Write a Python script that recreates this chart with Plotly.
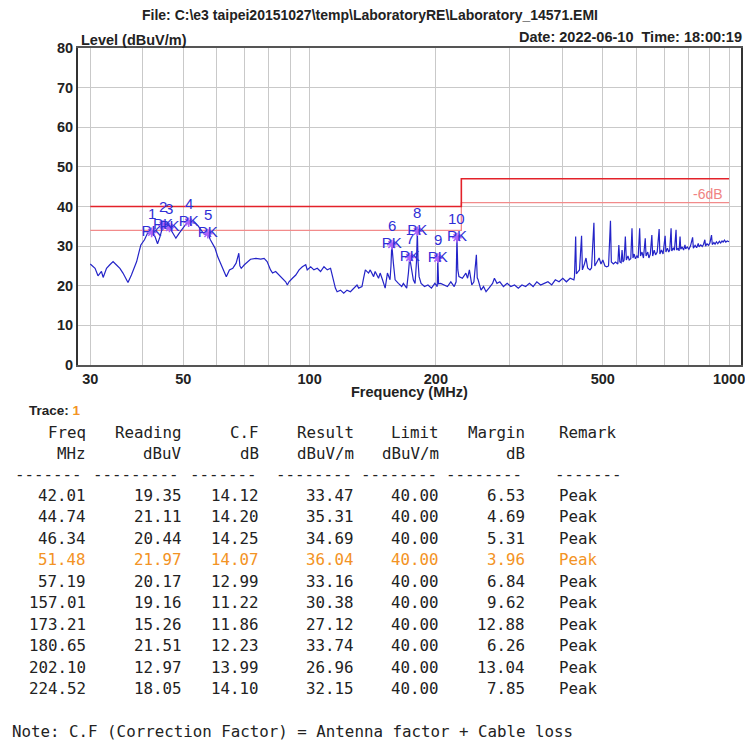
import numpy as np
import plotly.graph_objects as go

# ---------------- data ----------------
FREQ = [
    30.0, 30.8, 31.3, 31.9, 32.2, 32.8, 33.4, 34.0, 34.6, 35.3, 35.9, 36.4, 36.9, 37.6, 38.2, 38.7,
    39.2, 39.6, 40.4, 41.1, 42.01, 42.4, 42.8, 43.4, 44.0, 44.74, 45.4, 46.34, 47.1, 48.0, 48.9,
    50.0, 51.0, 51.48, 52.3, 53.4, 54.4, 55.4, 56.3, 57.19, 58.0, 58.8, 59.5, 60.4, 61.8, 62.5,
    63.3, 64.4, 65.6, 66.8, 67.8, 68.2, 68.7, 69.9, 71.2,
    72.3, 74.5, 76.5, 77.9, 79.2, 80.7, 81.6, 83.0, 84.6, 86.1, 87.7, 88.5, 89.3, 91.0, 92.7,
    94.4, 96.1, 97.9, 98.7, 100.6, 102.4, 104.3, 106.2, 108.2, 110.2, 112.2, 113.2, 114.2,
    115.2, 116.3, 118.5, 120.6, 122.8, 125.1, 127.4, 129.7, 130.9, 133.3, 134.5, 135.8, 138.2,
    139.5, 142.1, 143.3, 146.0, 147.3, 149.2, 151.4, 153.3, 155.5, 156.3, 157.01, 158.4, 159.9,
    162.8,
    165.8, 167.3, 170.4, 172.0, 173.21, 176.7, 178.4, 179.8, 180.65, 181.4, 182.4, 184.4, 187.9,
    191.5, 195.2, 198.9, 201.5, 202.10, 203.0, 205.3, 209.2, 213.1, 217.1, 221.2, 223.5, 224.52,
    225.6, 227.0, 231.3, 235.8, 238.0, 240.4, 243.6, 246.4, 249.8, 251.0, 252.2, 256.2, 259.8,
    263.4, 267.6, 273.0, 275.8, 279.7, 284.1, 289.8, 295.8, 301.8, 308.0, 314.4, 320.8, 327.4,
    334.3, 341.1, 348.1, 355.4, 362.6, 370.0, 377.7, 385.3, 393.2, 401.4, 409.5, 417.9, 426.6,
    428.0, 430.8, 432.5, 436.0, 440.0, 445.0, 447.0, 452.0, 456.0, 460.0, 466.0, 470.0, 476.2,
    478.5, 484.0, 490.0, 495.0, 500.0, 506.0, 511.0, 516.0, 521.5, 524.0, 530.0, 536.0, 543.0,
    546.0, 549.0, 553.0, 555.8, 558.5, 562.0, 565.9, 569.0, 574.0, 578.0, 583.0, 586.9, 590.0,
    594.0, 598.0, 603.0, 607.0, 612.1, 615.0, 620.0, 625.0, 631.2, 634.0, 640.0, 644.0, 649.0,
    654.5, 657.5, 663.0, 668.0, 674.0, 681.2, 684.0, 690.0, 696.0, 704.0, 707.0, 713.0, 718.0,
    722.0, 727.4, 730.0, 736.0, 741.0, 747.5, 750.0, 756.0, 760.0, 764.1, 767.0, 773.0, 779.0,
    785.0, 788.0, 795.0, 802.0, 809.0, 818.6, 822.0, 830.0, 837.0, 844.4, 848.0, 856.0, 863.0,
    869.0, 875.5, 879.0, 886.0, 893.0, 900.0, 908.1, 912.0, 920.0, 926.0, 933.2, 940.0, 948.0,
    955.0, 962.0, 968.0, 975.0, 982.0, 990.0, 1000.0,
]
LEVEL = [
    25.5, 24.4, 22.5, 23.6, 22.1, 24.4, 25.3, 26.1, 25.3, 24.4, 23.2, 22.0, 20.8, 22.7, 24.5, 26.1,
    28.5, 30.3, 31.6, 33.3, 33.47, 33.0, 32.4, 30.6, 32.4, 35.31, 34.5, 34.69, 33.3, 32.0, 33.3,
    34.8, 35.9, 36.04, 36.0, 35.8, 34.9, 33.7, 33.0, 33.16, 31.6, 30.3, 29.5, 27.3, 24.8, 23.5,
    22.3, 24.0, 24.4, 25.7, 28.2, 25.0, 24.4, 25.3, 26.1,
    26.7, 26.9, 26.7, 26.9, 26.1, 24.0, 23.2, 23.6, 22.7, 21.9, 21.0, 20.2, 21.0, 21.9, 22.7,
    24.0, 24.8, 25.3, 24.0, 24.8, 24.0, 24.4, 23.6, 24.8, 24.0, 24.4, 22.7, 21.5,
    19.4, 18.5, 18.9, 18.1, 18.9, 18.5, 19.4, 20.2, 19.4, 19.8, 21.9, 24.0, 23.2,
    24.0, 22.3, 23.6, 21.9, 23.2, 21.5, 19.4, 23.2, 21.5, 25.0, 30.38, 25.7, 21.5,
    20.6,
    19.8, 20.6, 19.4, 23.2, 27.12, 21.5, 20.6, 26.0, 33.74, 26.0, 22.3, 20.6, 19.8,
    20.2, 19.4, 20.6, 19.8, 26.96, 20.5, 20.6, 20.2, 19.8, 21.0, 19.8, 21.0, 32.15,
    24.0, 22.3, 21.9, 23.2, 21.9, 24.0, 20.2, 21.0, 27.8, 22.0, 21.5, 18.9, 19.8,
    18.5, 19.4, 20.6, 21.9, 20.6, 21.0, 19.8, 20.6, 19.8, 20.2, 19.4, 20.2, 19.8,
    20.6, 19.8, 21.0, 20.2, 20.6, 21.0, 20.2, 21.5, 21.0, 21.9, 21.0, 21.9, 21.5,
    22.3, 32.4, 23.0, 23.5, 24.0, 32.6, 24.0, 25.5, 27.0, 24.5, 24.0, 24.5, 35.9,
    25.0, 26.0, 27.0, 25.5, 26.5, 25.0, 24.8, 25.0, 36.4, 26.0, 25.5, 26.0, 25.5,
    30.3, 26.0, 25.8, 29.0, 26.0, 26.5, 32.4, 26.5, 27.5, 26.5, 26.8, 34.5, 27.0,
    28.0, 26.8, 27.5, 27.0, 34.5, 27.5, 28.5, 27.0, 32.0, 27.5, 28.5, 27.0, 28.0,
    32.8, 27.5, 29.0, 27.8, 28.5, 34.3, 28.0, 29.0, 28.0, 32.6, 28.5, 29.5, 28.5,
    29.0, 34.5, 28.8, 29.5, 29.0, 34.1, 29.0, 29.5, 28.8, 32.4, 29.2, 29.8, 29.0,
    30.3, 29.3, 29.8, 29.2, 30.0, 32.2, 29.5, 30.2, 29.6, 30.7, 29.8, 30.3, 29.9,
    30.4, 31.6, 30.0, 30.6, 30.2, 30.8, 32.8, 30.4, 30.9, 30.5, 31.1, 30.6, 31.2,
    30.8, 31.3, 31.0, 31.5, 31.0, 31.3, 31.1,
]

LIMIT_FREQ = [30, 230, 230, 1000]
LIMIT_LEVEL = [40, 40, 47, 47]
MARGIN_LEVEL = [34, 34, 41, 41]

PEAK_NO = [1, 2, 3, 4, 5, 6, 7, 8, 9, 10]
PEAK_FREQ = [42.01, 44.74, 46.34, 51.48, 57.19, 157.01, 173.21, 180.65, 202.10, 224.52]
READING = [19.35, 21.11, 20.44, 21.97, 20.17, 19.16, 15.26, 21.51, 12.97, 18.05]
CF = [14.12, 14.20, 14.25, 14.07, 12.99, 11.22, 11.86, 12.23, 13.99, 14.10]
RESULT = [33.47, 35.31, 34.69, 36.04, 33.16, 30.38, 27.12, 33.74, 26.96, 32.15]
LIMIT = [40.00, 40.00, 40.00, 40.00, 40.00, 40.00, 40.00, 40.00, 40.00, 40.00]
MARGIN = [6.53, 4.69, 5.31, 3.96, 6.84, 9.62, 12.88, 6.26, 13.04, 7.85]
REMARK = ["Peak"] * 10
HIGHLIGHT_ROW = 3

HEAD1 = ["Freq", "Reading", "C.F", "Result", "Limit", "Margin", "Remark"]
HEAD2 = ["MHz", "dBuV", "dB", "dBuV/m", "dBuV/m", "dB", ""]

Y_TICKS = [0, 10, 20, 30, 40, 50, 60, 70, 80]
X_GRID = [30, 40, 50, 60, 70, 80, 90, 100, 200, 300, 400, 500, 600, 700, 800, 900, 1000]
X_LABELED = [30, 50, 100, 200, 500, 1000]

TITLE = "File: C:\\e3 taipei20151027\\temp\\LaboratoryRE\\Laboratory_14571.EMI"
DATE_TEXT = "Date: 2022-06-10&nbsp; Time: 18:00:19"
NOTE = "Note: C.F (Correction Factor) = Antenna factor + Cable loss"

# ---------------- layout geometry (reference pixels) ----------------
PAGE_OFF = 8                     # the page body margin shifts the figure by 8 px
W, H = 753 - PAGE_OFF, 742 - PAGE_OFF
L, R, T, B = 78, 745, 48, 365    # plot area in reference-picture pixels
PW, PH = R - L, B - T
PX_PER_DEC = 422.0
X_LO = 3 - (733 - L) / PX_PER_DEC
X_HI = X_LO + PW / PX_PER_DEC


def px(x):
    return (x - L) / PW


def py(y):
    return (B - y) / PH


SANS = "Liberation Sans, Arial, sans-serif"
MONO = "DejaVu Sans Mono, Liberation Mono, monospace"
BLUE = "#2424c8"
LBL_BLUE = "#2f2fd6"
ORANGE = "#f39324"
TXT = "#222222"

fig = go.Figure()
fig.add_trace(go.Scatter(x=LIMIT_FREQ, y=MARGIN_LEVEL, mode="lines",
                         line=dict(color="#f28b8b", width=1.3), hoverinfo="skip"))
fig.add_trace(go.Scatter(x=LIMIT_FREQ, y=LIMIT_LEVEL, mode="lines",
                         line=dict(color="#e3222a", width=1.6), hoverinfo="skip"))
fig.add_trace(go.Scatter(x=FREQ, y=LEVEL, mode="lines",
                         line=dict(color=BLUE, width=1.2), hoverinfo="skip"))
fig.add_trace(go.Scatter(x=PEAK_FREQ, y=RESULT, mode="markers+text",
                         text=["PK"] * len(PEAK_FREQ), textposition="middle center",
                         textfont=dict(family=SANS, size=15, color=LBL_BLUE),
                         marker=dict(symbol="asterisk-open", size=8,
                                     line=dict(color="#10108c", width=1.6)),
                         hoverinfo="skip"))

ann = []
for n, f, r in zip(PEAK_NO, PEAK_FREQ, RESULT):
    ann.append(dict(x=np.log10(f), y=r, xref="x", yref="y", text=str(n), showarrow=False,
                    yshift=19, font=dict(family=SANS, size=15, color=LBL_BLUE)))

ann.append(dict(x=px(729), y=py(194), xref="paper", yref="paper", text="-6dB", showarrow=False,
                xanchor="right", yanchor="middle",
                font=dict(family=SANS, size=14, color="#f08383")))

hdr_font = dict(family=SANS, size=14.5, color=TXT, weight="bold")
ann.append(dict(x=px(372), y=py(15), xref="paper", yref="paper", text=TITLE, showarrow=False,
                xanchor="center", yanchor="middle",
                font=dict(family=SANS, size=14, color=TXT, weight="bold")))
ann.append(dict(x=px(79), y=py(40), xref="paper", yref="paper", text="Level (dBuV/m)", showarrow=False,
                xanchor="left", yanchor="middle", font=hdr_font))
ann.append(dict(x=px(748), y=py(37), xref="paper", yref="paper", text=DATE_TEXT, showarrow=False,
                xanchor="right", yanchor="middle", font=hdr_font))
ann.append(dict(x=px(411), y=py(392), xref="paper", yref="paper", text="Frequency (MHz)", showarrow=False,
                xanchor="center", yanchor="middle", font=hdr_font))
ann.append(dict(x=px(27), y=py(410), xref="paper", yref="paper",
                text="Trace: <span style='color:%s'>1</span>" % ORANGE, showarrow=False,
                xanchor="left", yanchor="middle", font=dict(family=SANS, size=13.5, color=TXT, weight="bold")))

# table
COL_RIGHT = [88, 185, 262, 358, 443, 530]
REMARK_LEFT = 560


def cell(x, y, text, anchor="right", color=TXT):
    return dict(x=px(x), y=py(y), xref="paper", yref="paper", text=text, showarrow=False,
                xanchor=anchor, yanchor="middle", font=dict(family=MONO, size=15.8, color=color))


for i, h in enumerate(HEAD1):
    if i < 6:
        ann.append(cell(COL_RIGHT[i], 432, h))
    else:
        ann.append(cell(REMARK_LEFT, 432, h, "left"))
for i, h in enumerate(HEAD2):
    if h:
        ann.append(cell(COL_RIGHT[i], 453, h))

DASH_RIGHT = [84, 182, 260, 356, 441, 527]
DASH_N = [7, 9, 7, 8, 8, 8]
for xr, n in zip(DASH_RIGHT, DASH_N):
    ann.append(cell(xr, 474, "-" * n))
ann.append(cell(REMARK_LEFT - 4, 474, "-" * 7, "left"))

ROW0, STEP = 495, 21.55
for i in range(len(PEAK_FREQ)):
    y = ROW0 + i * STEP
    col = ORANGE if i == HIGHLIGHT_ROW else TXT
    vals = [PEAK_FREQ[i], READING[i], CF[i], RESULT[i], LIMIT[i], MARGIN[i]]
    for j, v in enumerate(vals):
        ann.append(cell(COL_RIGHT[j], y, f"{v:.2f}", color=col))
    ann.append(cell(REMARK_LEFT, y, REMARK[i], "left", color=col))

ann.append(cell(10, 731, NOTE, "left"))

tick_font = dict(family=SANS, size=14.5, color=TXT, weight="bold")
fig.update_layout(
    width=W, height=H,
    margin=dict(l=L - PAGE_OFF, r=753 - R, t=T - PAGE_OFF, b=742 - B, pad=0),
    paper_bgcolor="white", plot_bgcolor="white",
    showlegend=False,
    annotations=ann,
    xaxis=dict(type="log", range=[X_LO, X_HI], tickmode="array", tickvals=X_GRID,
               ticktext=[str(v) if v in X_LABELED else "" for v in X_GRID],
               showgrid=True, gridcolor="#c9c9c9", gridwidth=1, zeroline=False,
               showline=True, mirror=True, linecolor="#555555", linewidth=2,
               ticks="", tickfont=tick_font, fixedrange=True),
    yaxis=dict(range=[0, 80], tickmode="array", tickvals=Y_TICKS,
               showgrid=True, gridcolor="#c9c9c9", gridwidth=1, zeroline=False,
               showline=True, mirror=True, linecolor="#333333", linewidth=2,
               ticks="", tickfont=tick_font, fixedrange=True),
)

fig.write_html("out.html")
